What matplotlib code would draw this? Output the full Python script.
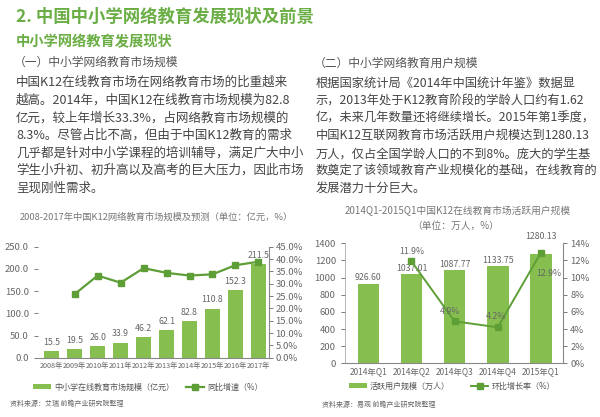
import numpy as np
import matplotlib
matplotlib.use("Agg")
import matplotlib.pyplot as plt

plt.rcParams['font.family'] = ['Noto Sans CJK SC', 'DejaVu Sans']

# ---- data ----
years = ['2008年', '2009年', '2010年', '2011年', '2012年', '2013年', '2014年', '2015年', '2016年', '2017年']
market_size = [15.5, 19.5, 26.0, 33.9, 46.2, 62.1, 82.8, 110.8, 152.3, 211.5]
growth_rate = [np.nan, 25.8, 33.3, 30.4, 36.3, 34.4, 33.3, 33.8, 37.5, 38.9]

quarters = ['2014年Q1', '2014年Q2', '2014年Q3', '2014年Q4', '2015年Q1']
active_users = [926.60, 1037.01, 1087.77, 1133.75, 1280.13]
qoq_rate = [np.nan, 11.9, 4.9, 4.2, 12.9]

title = '2. 中国中小学网络教育发展现状及前景'
subtitle = '中小学网络教育发展现状'
left_head = '（一）中小学网络教育市场规模'
right_head = '（二）中小学网络教育用户规模'
left_lines = [
    '中国K12在线教育市场在网络教育市场的比重越来',
    '越高。2014年，中国K12在线教育市场规模为82.8',
    '亿元，较上年增长33.3%，占网络教育市场规模的',
    '8.3%。尽管占比不高，但由于中国K12教育的需求',
    '几乎都是针对中小学课程的培训辅导，满足广大中小',
    '学生小升初、初升高以及高考的巨大压力，因此市场',
    '呈现刚性需求。',
]
right_lines = [
    '根据国家统计局《2014年中国统计年鉴》数据显',
    '示，2013年处于K12教育阶段的学龄人口约有1.62',
    '亿，未来几年数量还将继续增长。2015年第1季度，',
    '中国K12互联网教育市场活跃用户规模达到1280.13',
    '万人，仅占全国学龄人口的不到8%。庞大的学生基',
    '数奠定了该领域教育产业规模化的基础，在线教育的',
    '发展潜力十分巨大。',
]

W, H = 600, 417
green_title = '#6aae45'
bar_c = '#86bf50'
line_c = '#5e9e36'
txt_c = '#444444'
tick_c = '#666666'


def fy(px):
    return 1 - px / H


fig = plt.figure(figsize=(6, 4.17), dpi=100)

# ---- header texts ----
fig.text(16 / W, fy(17), title, fontsize=12.5, fontweight='bold', color=green_title, va='center')
fig.text(16 / W, fy(42), subtitle, fontsize=10.3, fontweight='bold', color=green_title, va='center')
fig.text(14 / W, fy(62), left_head, fontsize=8.5, color='#555555', va='center')
fig.text(314 / W, fy(63), right_head, fontsize=8.5, color='#555555', va='center')

for i, line in enumerate(left_lines):
    fig.text(16 / W, fy(82.5 + i * 17.6), line, fontsize=9.0, color=txt_c, va='center')
for i, line in enumerate(right_lines):
    fig.text(316 / W, fy(83 + i * 17.7), line, fontsize=8.8, color=txt_c, va='center')

# ---- left chart ----
fig.text(20 / W, fy(217), '2008-2017年中国K12网络教育市场规模及预测（单位：亿元，%）',
         fontsize=6.7, color='#777777', va='center')

ax1 = fig.add_axes([38 / W, 1 - 357.7 / H, 230.7 / W, 111 / H])
x1 = np.arange(len(years))
bars1 = ax1.bar(x1, market_size, width=0.65, color=bar_c, zorder=2)
for xi, v in zip(x1, market_size):
    ax1.annotate(f'{v:.1f}', (xi, v), xytext=(0, 3), textcoords='offset points',
                 ha='center', va='bottom', fontsize=6.3, color=tick_c)
ax1.set_xlim(-0.6, 9.45)
ax1.set_ylim(0, 250)
ax1.set_yticks(np.arange(0, 251, 50))
ax1.set_yticklabels([f'{v:.1f}' for v in np.arange(0, 251, 50)])
ax1.set_xticks(x1)
ax1.set_xticklabels(years, fontsize=5.2)
ax1.tick_params(axis='x', length=0, pad=3, colors=tick_c)
ax1.tick_params(axis='y', length=3, labelsize=6.8, colors=tick_c, width=0.6)
for s in ['top', 'right', 'left']:
    ax1.spines[s].set_visible(False)
ax1.spines['bottom'].set_color('#888888')
ax1.spines['bottom'].set_linewidth(0.8)

ax1b = ax1.twinx()
line1, = ax1b.plot(x1, growth_rate, color=line_c, lw=1.6, marker='s', ms=4.5, zorder=3)
ax1b.set_ylim(0, 45)
ax1b.set_yticks(np.arange(0, 46, 5))
ax1b.set_yticklabels([f'{v:.1f}%' for v in np.arange(0, 46, 5)])
ax1b.tick_params(axis='y', length=3, labelsize=6.8, colors=tick_c, width=0.6, pad=2)
for s in ['top', 'left', 'bottom']:
    ax1b.spines[s].set_visible(False)
ax1b.spines['right'].set_color('#888888')
ax1b.spines['right'].set_linewidth(0.8)

fig.legend([bars1, line1], ['中小学在线教育市场规模（亿元）', '同比增速（%）'],
           loc='center', bbox_to_anchor=(148 / W, fy(387)), ncol=2, frameon=False,
           fontsize=5.8, handlelength=2.2, handleheight=0.6, columnspacing=1.5,
           handletextpad=0.4, labelcolor='#555555')
fig.text(10 / W, fy(404), '资料来源：艾瑞 前瞻产业研究院整理', fontsize=5, color='#666666', va='center')

# ---- right chart ----
fig.text(458 / W, fy(211), '2014Q1-2015Q1中国K12在线教育市场活跃用户规模',
         fontsize=7, color='#777777', va='center', ha='center')
fig.text(456 / W, fy(226), '（单位：万人，%）', fontsize=7, color='#777777', va='center', ha='center')

ax2 = fig.add_axes([345 / W, 1 - 363.3 / H, 218.3 / W, 120 / H])
x2 = np.arange(len(quarters))
bars2 = ax2.bar(x2, active_users, width=0.5, color=bar_c, zorder=2)
for xi, v in zip(x2, active_users):
    off = 9 if xi == 4 else 1
    ax2.annotate(f'{v:.2f}', (xi, v), xytext=(0, off), textcoords='offset points',
                 ha='center', va='bottom', fontsize=6.3, color=tick_c)
ax2.set_xlim(-0.54, 4.52)
ax2.set_ylim(0, 1400)
ax2.set_yticks(np.arange(0, 1401, 200))
ax2.set_xticks(x2)
ax2.set_xticklabels(quarters, fontsize=6)
ax2.tick_params(axis='x', length=0, pad=3, colors=tick_c)
ax2.tick_params(axis='y', length=3, labelsize=6.8, colors=tick_c, width=0.6)
for s in ['top', 'right']:
    ax2.spines[s].set_visible(False)
ax2.spines['bottom'].set_color('#888888')
ax2.spines['left'].set_color('#aaaaaa')
ax2.spines['bottom'].set_linewidth(0.8)
ax2.spines['left'].set_linewidth(0.6)

ax2b = ax2.twinx()
line2, = ax2b.plot(x2, qoq_rate, color=line_c, lw=1.4, marker='s', ms=4.5, zorder=3)
ax2b.set_ylim(0, 14)
ax2b.set_yticks(np.arange(0, 15, 2))
ax2b.set_yticklabels([f'{v}%' for v in np.arange(0, 15, 2)])
ax2b.tick_params(axis='y', length=3, labelsize=6.8, colors=tick_c, width=0.6, pad=2)
for s in ['top', 'left', 'bottom']:
    ax2b.spines[s].set_visible(False)
ax2b.spines['right'].set_color('#888888')
ax2b.spines['right'].set_linewidth(0.8)

label_offsets = {1: (0, 7), 2: (-3, 7), 3: (-1, 8), 4: (6, -15)}
for xi, v in zip(x2, qoq_rate):
    if np.isnan(v):
        continue
    dx, dy = label_offsets[xi]
    ax2b.annotate(f'{v:.1f}%', (xi, v), xytext=(dx, dy), textcoords='offset points',
                  ha='center', va='center', fontsize=6.3, color=tick_c)

fig.legend([bars2, line2], ['活跃用户规模（万人）', '环比增长率（%）'],
           loc='center', bbox_to_anchor=(452 / W, fy(386)), ncol=2, frameon=False,
           fontsize=5.8, handlelength=2.2, handleheight=0.6, columnspacing=2.6,
           handletextpad=0.4, labelcolor='#555555')
fig.text(322 / W, fy(405), '资料来源：易观 前瞻产业研究院整理', fontsize=5, color='#666666', va='center')

fig.savefig('out.png', dpi=100)
